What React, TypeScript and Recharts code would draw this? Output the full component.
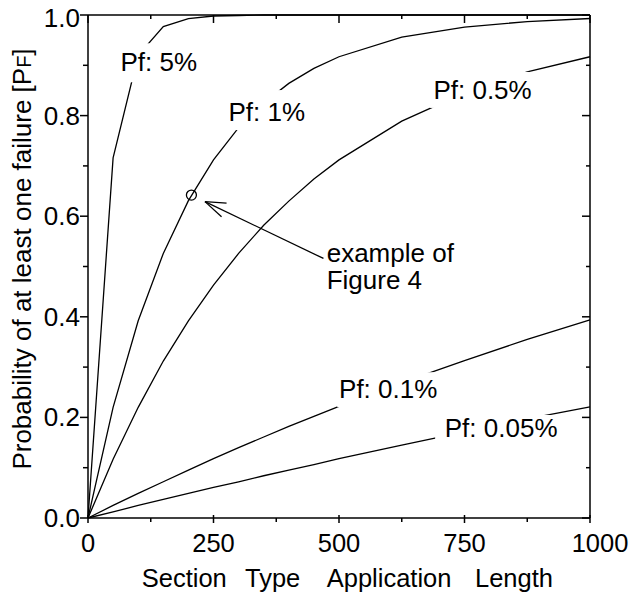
import React from 'react';
import { LineChart, Line, XAxis, YAxis, ReferenceDot, ReferenceLine, Label } from 'recharts';

// Section type application length (x) samples
const lengths = [0, 50, 100, 150, 200, 250, 300, 350, 400, 450, 500, 625, 750, 875, 1000];
// Probability of at least one failure for each Pf
const pf5 = [0, 0.716, 0.92, 0.977, 0.993, 0.998, 0.999, 1.0, 1.0, 1.0, 1.0, 1.0, 1.0, 1.0, 1.0];
const pf1 = [0, 0.22, 0.392, 0.526, 0.631, 0.712, 0.776, 0.825, 0.864, 0.894, 0.917, 0.956, 0.976, 0.987, 0.993];
const pf05 = [0, 0.117, 0.22, 0.312, 0.392, 0.463, 0.526, 0.582, 0.63, 0.674, 0.712, 0.789, 0.845, 0.887, 0.917];
const pf01 = [0, 0.025, 0.049, 0.072, 0.095, 0.118, 0.14, 0.161, 0.182, 0.202, 0.222, 0.269, 0.313, 0.355, 0.394];
const pf005 = [0, 0.012, 0.025, 0.037, 0.049, 0.061, 0.072, 0.084, 0.095, 0.106, 0.118, 0.145, 0.171, 0.197, 0.221];

const xTicks = [0, 125, 250, 375, 500, 625, 750, 875, 1000];
const xLabeled = [0, 250, 500, 750, 1000];
const yTicks = [0, 0.1, 0.2, 0.3, 0.4, 0.5, 0.6, 0.7, 0.8, 0.9, 1.0];
const yLabeled = [0, 0.2, 0.4, 0.6, 0.8, 1.0];

const curveNames = ['Pf: 5%', 'Pf: 1%', 'Pf: 0.5%', 'Pf: 0.1%', 'Pf: 0.05%'];
// label anchor positions (data coordinates: length, probability)
const labelX = [141, 356, 786, 598, 823];
const labelY = [0.908, 0.807, 0.851, 0.258, 0.179];

// example annotation (data coordinates)
const examplePoint = { x: 206, y: 0.642 };
const arrowTail = { x: 469, y: 0.516 };
const arrowTip = { x: 233, y: 0.629 };
const arrowArm1 = { x: 276, y: 0.626 };
const arrowArm2 = { x: 266, y: 0.599 };
const exampleText = { x: 475.5, y: 0.509 };
const exampleLines = ['example of', 'Figure 4'];

const data = lengths.map((n, i) => ({
  n,
  p5: pf5[i],
  p1: pf1[i],
  p05: pf05[i],
  p01: pf01[i],
  p005: pf005[i],
}));
const seriesKeys = ['p5', 'p1', 'p05', 'p01'];

const FONT = '"Liberation Sans", Arial, Helvetica, sans-serif';
const FS = 25.5;
const SW = 1.3;
const TW = 1.5;

// white box paddings around each label (px: left, right, top, bottom)
const boxes = [
  { l: 41, r: 41, t: 18, b: 21 },
  { l: 40.5, r: 40.5, t: 22, b: 18 },
  { l: 52.5, r: 52.5, t: 18, b: 18 },
  { l: 51, r: 51, t: 16, b: 19 },
  { l: 66, r: 59, t: 13, b: 13 },
];

const seg = (x1: number, y1: number, x2: number, y2: number) => (
  <path d={`M${x1},${y1}L${x2},${y2}`} stroke="#000" strokeWidth={TW} fill="none" />
);

const BottomTick = (props: any) => {
  const x = Number(props.x);
  const y = Number(props.y);
  const v = props.payload.value;
  const major = xLabeled.includes(v);
  return (
    <g>
      {major ? seg(x, y - 3, x, y + 5) : seg(x, y, x, y + 4)}
      {major && (
        <text x={v === 1000 ? x + 10 : x} y={y + 34} textAnchor="middle" fontSize={FS} fontFamily={FONT} fill="#000">
          {String(v)}
        </text>
      )}
    </g>
  );
};

const TopTick = (props: any) => {
  const x = Number(props.x);
  const y = Number(props.y);
  const major = xLabeled.includes(props.payload.value);
  return seg(x, y, x, y + (major ? 8 : 4));
};

const LeftTick = (props: any) => {
  const x = Number(props.x);
  const y = Number(props.y);
  const v = props.payload.value;
  const major = yLabeled.some((t) => Math.abs(t - v) < 1e-9);
  const top = Math.abs(v - 1) < 1e-9;
  return (
    <g>
      {seg(x - (major ? 8 : 5), y, x, y)}
      {major && (
        <text x={x - 8} y={y + 9 + (top ? 3 : 0)} textAnchor="end" fontSize={26} fontFamily={FONT} fill="#000">
          {v.toFixed(1)}
        </text>
      )}
    </g>
  );
};

const RightTick = (props: any) => {
  const x = Number(props.x);
  const y = Number(props.y);
  const v = props.payload.value;
  const major = yLabeled.some((t) => Math.abs(t - v) < 1e-9);
  return seg(x - (major ? 8 : 4), y, x, y);
};

const YTitle = (props: any) => {
  const vb = props.viewBox;
  const cx = vb.x + 31;
  const cy = vb.y + vb.height / 2 - 7.5;
  return (
    <text
      transform={`rotate(-90 ${cx} ${cy})`}
      x={cx}
      y={cy}
      textAnchor="middle"
      fontSize={26}
      fontFamily={FONT}
      fill="#000"
    >
      Probability of at least one failure [P<tspan fontSize={20}>F</tspan>]
    </text>
  );
};

const XTitle = (props: any) => {
  const vb = props.viewBox;
  const x0 = vb.x + 53.7;
  const y0 = vb.y + 68.5;
  const words = ['Section', 'Type', 'Application', 'Length'];
  const offs = [0, 103.3, 185, 333.3];
  return (
    <text y={y0} fontSize={FS} fontFamily={FONT} fill="#000">
      {words.map((w, i) => (
        <tspan key={w} x={x0 + offs[i]} y={y0}>
          {w}
        </tspan>
      ))}
    </text>
  );
};

const makeLabelShape = (i: number) => (props: any) => {
  const { cx, cy } = props;
  const b = boxes[i];
  return (
    <g>
      <rect x={cx - b.l} y={cy - b.t} width={b.l + b.r} height={b.t + b.b} fill="#fff" />
      <text x={cx} y={cy + 9.3} textAnchor="middle" fontSize={26} fontFamily={FONT} fill="#000">
        {curveNames[i]}
      </text>
    </g>
  );
};

const exampleShape = (props: any) => {
  const { cx, cy } = props;
  return (
    <g>
      {exampleLines.map((t, i) => (
        <text key={t} x={cx} y={cy + i * 27.5} fontSize={26} fontFamily={FONT} fill="#000">
          {t}
        </text>
      ))}
    </g>
  );
};

export default function App() {
  return (
    <div style={{ position: 'absolute', left: 0, top: 0, width: 629, height: 594 }}>
      <LineChart width={629} height={594} data={data} margin={{ top: 14, right: 38, bottom: 0, left: 0 }}>
        <XAxis
          dataKey="n"
          type="number"
          domain={[0, 1000]}
          ticks={xTicks}
          interval={0}
          height={76}
          tickLine={false}
          tickSize={0}
          tickMargin={0}
          tick={(p: any) => <BottomTick {...p} />}
          axisLine={{ stroke: '#000', strokeWidth: 1.5 }}
        >
          <Label content={<XTitle />} />
        </XAxis>
        <XAxis
          xAxisId="top"
          orientation="top"
          dataKey="n"
          type="number"
          domain={[0, 1000]}
          ticks={xTicks}
          interval={0}
          height={1}
          tickLine={false}
          tickSize={0}
          tickMargin={0}
          tick={(p: any) => <TopTick {...p} />}
          axisLine={{ stroke: '#000', strokeWidth: 1.5 }}
        />
        <YAxis
          type="number"
          domain={[0, 1]}
          ticks={yTicks}
          interval={0}
          width={88}
          tickLine={false}
          tickSize={0}
          tickMargin={0}
          tick={(p: any) => <LeftTick {...p} />}
          axisLine={{ stroke: '#000', strokeWidth: 1.5 }}
        >
          <Label content={<YTitle />} />
        </YAxis>
        <YAxis
          yAxisId="right"
          orientation="right"
          type="number"
          domain={[0, 1]}
          ticks={yTicks}
          interval={0}
          width={1}
          tickLine={false}
          tickSize={0}
          tickMargin={0}
          tick={(p: any) => <RightTick {...p} />}
          axisLine={{ stroke: '#000', strokeWidth: 1.5 }}
        />
        {seriesKeys.map((k) => (
          <Line
            key={k}
            dataKey={k}
            type="linear"
            stroke="#000"
            strokeWidth={SW}
            dot={false}
            activeDot={false}
            isAnimationActive={false}
          />
        ))}
        <Line
          dataKey="p005"
          xAxisId="top"
          yAxisId="right"
          type="linear"
          stroke="#000"
          strokeWidth={SW}
          dot={false}
          activeDot={false}
          isAnimationActive={false}
        />
        {curveNames.map((name, i) => (
          <ReferenceDot
            key={name}
            x={labelX[i]}
            y={labelY[i]}
            r={0}
            ifOverflow="visible"
            shape={makeLabelShape(i)}
          />
        ))}
        <ReferenceLine segment={[arrowTail, arrowTip]} stroke="#000" strokeWidth={SW} ifOverflow="visible" />
        <ReferenceLine segment={[arrowTip, arrowArm1]} stroke="#000" strokeWidth={SW} ifOverflow="visible" />
        <ReferenceLine segment={[arrowTip, arrowArm2]} stroke="#000" strokeWidth={SW} ifOverflow="visible" />
        <ReferenceDot
          x={examplePoint.x}
          y={examplePoint.y}
          r={5}
          fill="none"
          stroke="#000"
          strokeWidth={SW}
          ifOverflow="visible"
        />
        <ReferenceDot x={exampleText.x} y={exampleText.y} r={0} ifOverflow="visible" shape={exampleShape} />
      </LineChart>
    </div>
  );
}
